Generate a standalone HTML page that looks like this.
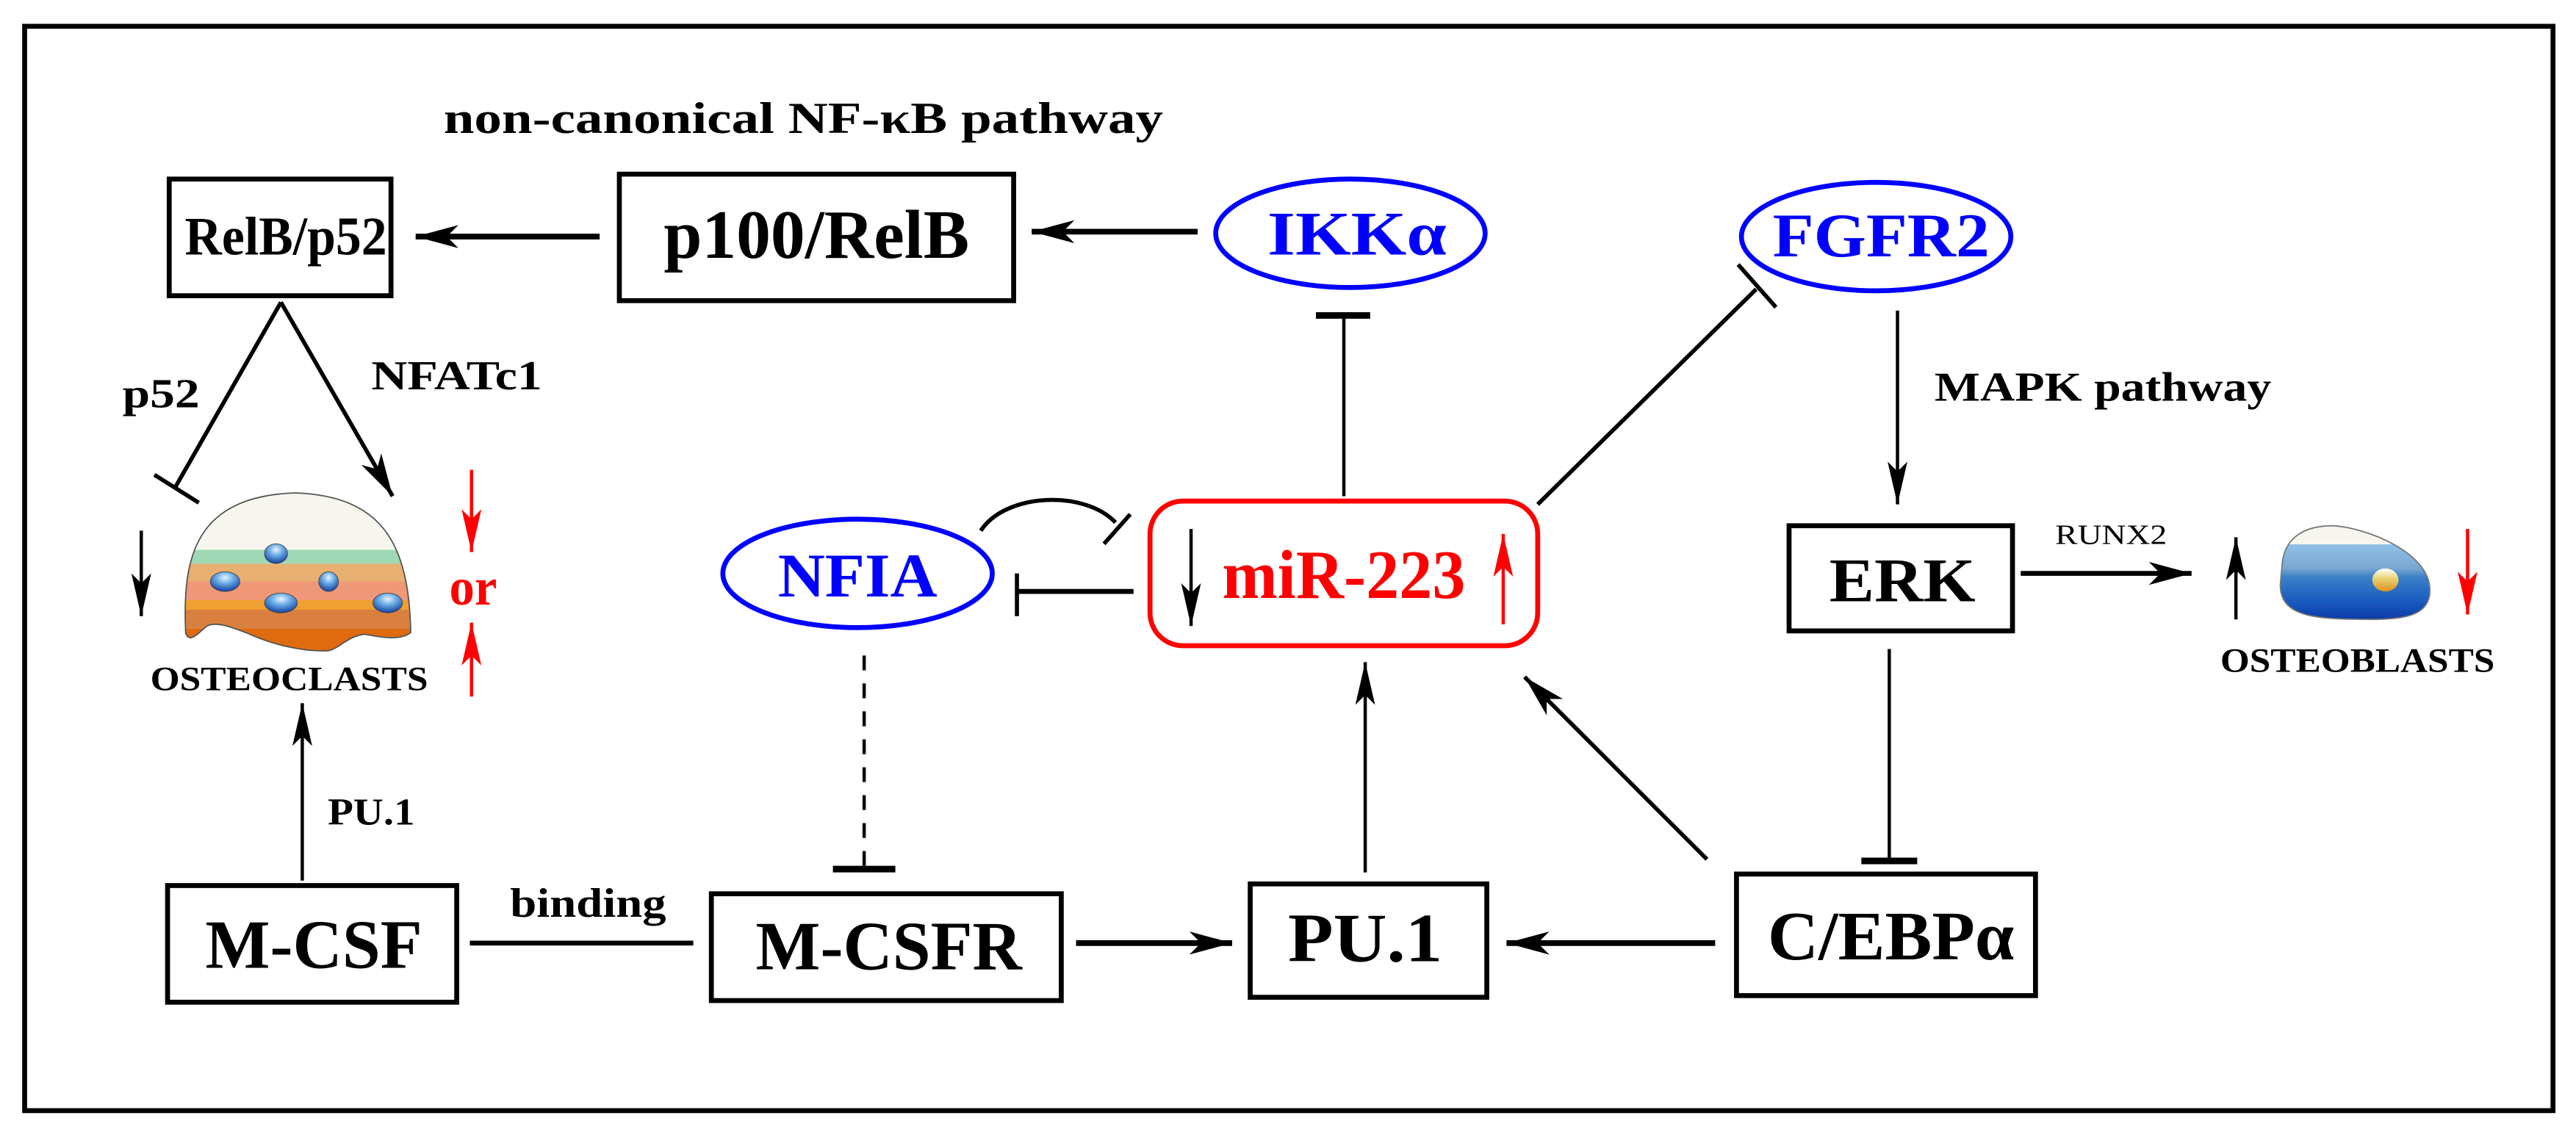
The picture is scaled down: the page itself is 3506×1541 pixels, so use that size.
<!DOCTYPE html>
<html><head><meta charset="utf-8"><style>html,body{margin:0;padding:0;background:#fff}svg{display:block}text{font-family:"Liberation Serif","Times New Roman",serif;font-weight:bold}</style></head>
<body>
<svg xmlns="http://www.w3.org/2000/svg" width="3506" height="1541" viewBox="0 0 1568 689" preserveAspectRatio="none">
<defs>
<marker id="ah" markerUnits="userSpaceOnUse" markerWidth="28" markerHeight="16" refX="26" refY="7" orient="auto"><path d="M0,0 L26,7 L0,14 L7,7 Z" fill="#000"/></marker>
<marker id="ahs" markerUnits="userSpaceOnUse" markerWidth="28" markerHeight="14" refX="26" refY="6" orient="auto"><path d="M0,0 L26,6 L0,12 L6,6 Z" fill="#000"/></marker>
<marker id="ahr" markerUnits="userSpaceOnUse" markerWidth="28" markerHeight="14" refX="26" refY="6" orient="auto"><path d="M0,0 L26,6 L0,12 L6,6 Z" fill="#f00"/></marker>
<linearGradient id="oc" x1="0" y1="0" x2="0" y2="1">
<stop offset="0" stop-color="#f7f6ee"/><stop offset="0.36" stop-color="#f7f6ee"/>
<stop offset="0.36" stop-color="#9fd8b4"/><stop offset="0.45" stop-color="#9fd8b4"/>
<stop offset="0.45" stop-color="#e8b070"/><stop offset="0.56" stop-color="#e8b070"/>
<stop offset="0.56" stop-color="#ef9878"/><stop offset="0.68" stop-color="#ef9878"/>
<stop offset="0.68" stop-color="#f0a030"/><stop offset="0.74" stop-color="#f0a030"/>
<stop offset="0.74" stop-color="#d98040"/><stop offset="0.86" stop-color="#d98040"/>
<stop offset="0.86" stop-color="#e06a10"/><stop offset="1" stop-color="#e06a10"/>
</linearGradient>
<linearGradient id="ob" x1="0" y1="0" x2="0" y2="1">
<stop offset="0" stop-color="#f7f6ee"/><stop offset="0.2" stop-color="#f7f6ee"/>
<stop offset="0.2" stop-color="#8ec0e8"/><stop offset="0.45" stop-color="#7aa8d0"/>
<stop offset="0.55" stop-color="#3a80c8"/><stop offset="0.8" stop-color="#1a5cc0"/>
<stop offset="1" stop-color="#0a3aa8"/>
</linearGradient>
<radialGradient id="dot" cx="0.5" cy="0.3" r="0.7"><stop offset="0" stop-color="#e8f4ff"/><stop offset="0.4" stop-color="#70b0e8"/><stop offset="1" stop-color="#1040a0"/></radialGradient>
<linearGradient id="yd" x1="0" y1="0" x2="0" y2="1"><stop offset="0" stop-color="#fff"/><stop offset="0.45" stop-color="#e8d070"/><stop offset="1" stop-color="#e09020"/></linearGradient>
</defs>

<rect x="15" y="16" width="1539" height="660" fill="none" stroke="#000" stroke-width="3"/>

<text x="489" y="81" font-size="27" text-anchor="middle" textLength="438" lengthAdjust="spacingAndGlyphs">non-canonical NF-κB pathway</text>

<rect x="103" y="109" width="135" height="71" fill="none" stroke="#000" stroke-width="3"/>
<text x="174" y="155" font-size="33" text-anchor="middle" textLength="123" lengthAdjust="spacingAndGlyphs">RelB/p52</text>
<line x1="365" y1="144" x2="253" y2="144" stroke="#000" stroke-width="3.5" marker-end="url(#ah)"/>

<rect x="377" y="106" width="240" height="77" fill="none" stroke="#000" stroke-width="3"/>
<text x="497" y="157" font-size="42" text-anchor="middle" textLength="186" lengthAdjust="spacingAndGlyphs">p100/RelB</text>
<line x1="729" y1="141" x2="628" y2="141" stroke="#000" stroke-width="3.5" marker-end="url(#ah)"/>

<ellipse cx="822" cy="142" rx="82" ry="33" fill="none" stroke="#0000ff" stroke-width="3"/>
<text x="826" y="155" font-size="38" fill="#0000ff" text-anchor="middle" textLength="109" lengthAdjust="spacingAndGlyphs">IKKα</text>

<ellipse cx="1142" cy="144" rx="82" ry="33" fill="none" stroke="#0000ff" stroke-width="3"/>
<text x="1145" y="156" font-size="38" fill="#0000ff" text-anchor="middle" textLength="132" lengthAdjust="spacingAndGlyphs">FGFR2</text>

<line x1="818" y1="302" x2="818" y2="192" stroke="#000" stroke-width="2"/>
<line x1="801" y1="192" x2="834" y2="192" stroke="#000" stroke-width="4"/>
<line x1="936" y1="307" x2="1069" y2="176" stroke="#000" stroke-width="2.5"/>
<line x1="1058" y1="161" x2="1081" y2="187" stroke="#000" stroke-width="2.5"/>

<line x1="1155" y1="189" x2="1155" y2="307" stroke="#000" stroke-width="2" marker-end="url(#ahs)"/>
<text x="1280" y="244" font-size="25" text-anchor="middle" textLength="205" lengthAdjust="spacingAndGlyphs">MAPK pathway</text>

<rect x="1089" y="320" width="136" height="64" fill="none" stroke="#000" stroke-width="3"/>
<text x="1158" y="366" font-size="38" text-anchor="middle" textLength="89" lengthAdjust="spacingAndGlyphs">ERK</text>
<line x1="1230" y1="349" x2="1334" y2="349" stroke="#000" stroke-width="3" marker-end="url(#ah)"/>
<text x="1285" y="331" font-size="17" font-weight="normal" style="font-weight:normal" text-anchor="middle" textLength="68" lengthAdjust="spacingAndGlyphs">RUNX2</text>

<line x1="1361" y1="377" x2="1361" y2="327" stroke="#000" stroke-width="2" marker-end="url(#ahs)"/>
<path d="M1389,345 C1390,326 1404,320 1420,320 C1440,321 1478,336 1479,358 C1480,374 1465,377 1445,377 C1410,377 1388,376 1388,356 Z" fill="url(#ob)" stroke="#777" stroke-width="0.8"/>
<ellipse cx="1452" cy="353" rx="8" ry="7" fill="url(#yd)"/>
<line x1="1502" y1="322" x2="1502" y2="374" stroke="#f00" stroke-width="2" marker-end="url(#ahr)"/>
<text x="1435" y="409" font-size="21" text-anchor="middle" textLength="167" lengthAdjust="spacingAndGlyphs">OSTEOBLASTS</text>

<line x1="1150" y1="395" x2="1150" y2="524" stroke="#000" stroke-width="2"/>
<line x1="1133" y1="524" x2="1167" y2="524" stroke="#000" stroke-width="4"/>

<rect x="1057" y="532" width="182" height="74" fill="none" stroke="#000" stroke-width="3"/>
<text x="1151" y="584" font-size="42" text-anchor="middle" textLength="150" lengthAdjust="spacingAndGlyphs">C/EBPα</text>
<line x1="1044" y1="574" x2="917" y2="574" stroke="#000" stroke-width="3.5" marker-end="url(#ah)"/>
<line x1="1039" y1="523" x2="928" y2="412" stroke="#000" stroke-width="2.5" marker-end="url(#ah)"/>

<rect x="761" y="538" width="144" height="69" fill="none" stroke="#000" stroke-width="3"/>
<text x="831" y="585" font-size="42" text-anchor="middle" textLength="94" lengthAdjust="spacingAndGlyphs">PU.1</text>
<line x1="831" y1="531" x2="831" y2="403" stroke="#000" stroke-width="2" marker-end="url(#ahs)"/>

<rect x="433" y="544" width="213" height="65" fill="none" stroke="#000" stroke-width="3"/>
<text x="541" y="590" font-size="42" text-anchor="middle" textLength="162" lengthAdjust="spacingAndGlyphs">M-CSFR</text>
<line x1="655" y1="574" x2="750" y2="574" stroke="#000" stroke-width="3.5" marker-end="url(#ah)"/>

<rect x="102" y="539" width="176" height="71" fill="none" stroke="#000" stroke-width="3"/>
<text x="191" y="589" font-size="42" text-anchor="middle" textLength="132" lengthAdjust="spacingAndGlyphs">M-CSF</text>
<line x1="286" y1="574" x2="422" y2="574" stroke="#000" stroke-width="3"/>
<text x="358" y="558" font-size="25" text-anchor="middle" textLength="95" lengthAdjust="spacingAndGlyphs">binding</text>
<line x1="184" y1="536" x2="184" y2="428" stroke="#000" stroke-width="2" marker-end="url(#ahs)"/>
<text x="226" y="502" font-size="23" text-anchor="middle" textLength="53" lengthAdjust="spacingAndGlyphs">PU.1</text>

<ellipse cx="522" cy="349" rx="82" ry="33" fill="none" stroke="#0000ff" stroke-width="3"/>
<text x="522" y="363" font-size="38" fill="#0000ff" text-anchor="middle" textLength="97" lengthAdjust="spacingAndGlyphs">NFIA</text>
<line x1="526" y1="399" x2="526" y2="529" stroke="#000" stroke-width="2" stroke-dasharray="9,8"/>
<line x1="507" y1="529" x2="545" y2="529" stroke="#000" stroke-width="4"/>
<line x1="690" y1="360" x2="619" y2="360" stroke="#000" stroke-width="3"/>
<line x1="619" y1="349" x2="619" y2="375" stroke="#000" stroke-width="2.5"/>
<path d="M597,323 C612,300 660,298 679,318" fill="none" stroke="#000" stroke-width="2.5"/>
<line x1="672" y1="331" x2="688" y2="313" stroke="#000" stroke-width="2.5"/>

<rect x="700" y="305" width="236" height="88" rx="20" ry="20" fill="none" stroke="#f00" stroke-width="3"/>
<line x1="725" y1="322" x2="725" y2="381" stroke="#000" stroke-width="2" marker-end="url(#ahs)"/>
<text x="818" y="364" font-size="42" fill="#f00" text-anchor="middle" textLength="148" lengthAdjust="spacingAndGlyphs">miR-223</text>
<line x1="915" y1="380" x2="915" y2="325" stroke="#f00" stroke-width="2" marker-end="url(#ahr)"/>

<line x1="171" y1="184" x2="107" y2="296" stroke="#000" stroke-width="2.5"/>
<line x1="94" y1="289" x2="121" y2="306" stroke="#000" stroke-width="2.5"/>
<line x1="171" y1="184" x2="239" y2="302" stroke="#000" stroke-width="2.5" marker-end="url(#ah)"/>
<text x="98" y="248" font-size="25" text-anchor="middle" textLength="47" lengthAdjust="spacingAndGlyphs">p52</text>
<text x="278" y="237" font-size="25" text-anchor="middle" textLength="104" lengthAdjust="spacingAndGlyphs">NFATc1</text>

<path d="M113,385 C111,340 118,302 180,300 C232,302 249,330 250,385 C244,390 232,388 222,386 C212,387 206,395 200,396 C185,397 165,392 152,386 C142,382 132,378 126,381 C120,386 115,392 113,385 Z" fill="url(#oc)" stroke="#555" stroke-width="0.8"/>
<ellipse cx="168" cy="337" rx="7" ry="6" fill="url(#dot)" stroke="#444" stroke-width="0.4"/>
<ellipse cx="137" cy="354" rx="9" ry="6" fill="url(#dot)" stroke="#444" stroke-width="0.4"/>
<ellipse cx="200" cy="354" rx="6" ry="6" fill="url(#dot)" stroke="#444" stroke-width="0.4"/>
<ellipse cx="171" cy="367" rx="10" ry="6" fill="url(#dot)" stroke="#444" stroke-width="0.4"/>
<ellipse cx="236" cy="367" rx="9" ry="6" fill="url(#dot)" stroke="#444" stroke-width="0.4"/>
<line x1="86" y1="323" x2="86" y2="375" stroke="#000" stroke-width="2" marker-end="url(#ahs)"/>
<line x1="287" y1="286" x2="287" y2="336" stroke="#f00" stroke-width="2" marker-end="url(#ahr)"/>
<text x="288" y="368" font-size="32" fill="#f00" text-anchor="middle" textLength="29" lengthAdjust="spacingAndGlyphs">or</text>
<line x1="287" y1="424" x2="287" y2="379" stroke="#f00" stroke-width="2" marker-end="url(#ahr)"/>
<text x="176" y="420" font-size="21" text-anchor="middle" textLength="169" lengthAdjust="spacingAndGlyphs">OSTEOCLASTS</text>
</svg>
</body></html>
